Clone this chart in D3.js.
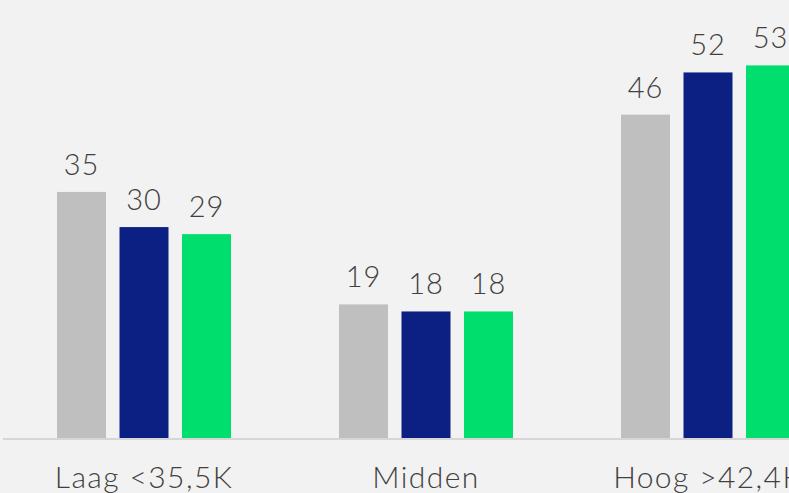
<!DOCTYPE html>
<html>
<head>
<meta charset="utf-8">
<script src="https://cdn.jsdelivr.net/npm/d3@7"></script>
<style>
  html, body { margin: 0; padding: 0; background: #f2f2f2; overflow: hidden; }
  svg { display: block; }
  text { font-family: Lato, "Open Sans", sans-serif; font-weight: 300; fill: #404040; }
</style>
</head>
<body>
<svg id="chart" width="789" height="493"></svg>
<script>
// Inkomensgroepen en drie meetmomenten
const categories = ["Laag <35,5K", "Midden", "Hoog >42,4K"];
const seriesNames = ["meting1", "meting2", "meting3"];
const seriesColors = ["#bfbfbf", "#0c1f82", "#00de6e"];
const meting1 = [35, 19, 46];
const meting2 = [30, 18, 52];
const meting3 = [29, 18, 53];
const seriesValues = [meting1, meting2, meting3];

const svg = d3.select("#chart");
const W = 789, H = 493;
const baseY = 438;

svg.append("rect").attr("width", W).attr("height", H).attr("fill", "#f2f2f2");

// Group scale: step 282px, bars occupy 174px in the middle of each step
const x0 = d3.scaleBand()
  .domain(categories)
  .range([3, 849])
  .paddingInner(0.383)
  .paddingOuter(0.1915);

const x1 = d3.scaleBand()
  .domain(seriesNames)
  .range([0, x0.bandwidth()])
  .paddingInner(0.216)
  .paddingOuter(0);

const y = d3.scaleLinear().domain([0, 60]).range([baseY, baseY - 60 * 7.03]);

const data = categories.map((c, i) => ({
  cat: c,
  vals: seriesNames.map((s, j) => ({ s, v: seriesValues[j][i], color: seriesColors[j] }))
}));

// Baseline
svg.append("line")
  .attr("x1", 3).attr("x2", W)
  .attr("y1", baseY + 1).attr("y2", baseY + 1)
  .attr("stroke", "#d6d6d6").attr("stroke-width", 2);

const groups = svg.selectAll("g.grp").data(data).join("g")
  .attr("class", "grp")
  .attr("transform", d => `translate(${x0(d.cat)},0)`);

groups.selectAll("rect").data(d => d.vals).join("rect")
  .attr("x", d => x1(d.s))
  .attr("width", x1.bandwidth())
  .attr("y", d => y(d.v))
  .attr("height", d => y(0) - y(d.v))
  .attr("fill", d => d.color);

groups.selectAll("text.val").data(d => d.vals).join("text")
  .attr("class", "val")
  .attr("x", d => x1(d.s) + x1.bandwidth() / 2)
  .attr("y", d => y(d.v) - 17)
  .attr("text-anchor", "middle")
  .attr("font-size", 29)
  .attr("letter-spacing", 0.8)
  .text(d => d.v);

// Category labels
const xAxis = d3.axisBottom(x0).tickSize(0).tickPadding(0);
const axisG = svg.append("g").attr("transform", `translate(0,${baseY})`).call(xAxis);
axisG.select(".domain").remove();
axisG.selectAll(".tick text")
  .attr("y", 50)
  .attr("dy", 0)
  .attr("font-size", 30)
  .attr("letter-spacing", 1.4)
  .attr("fill", "#404040")
  .style("font-family", "Lato, 'Open Sans', sans-serif")
  .style("font-weight", 300);
</script>
</body>
</html>
